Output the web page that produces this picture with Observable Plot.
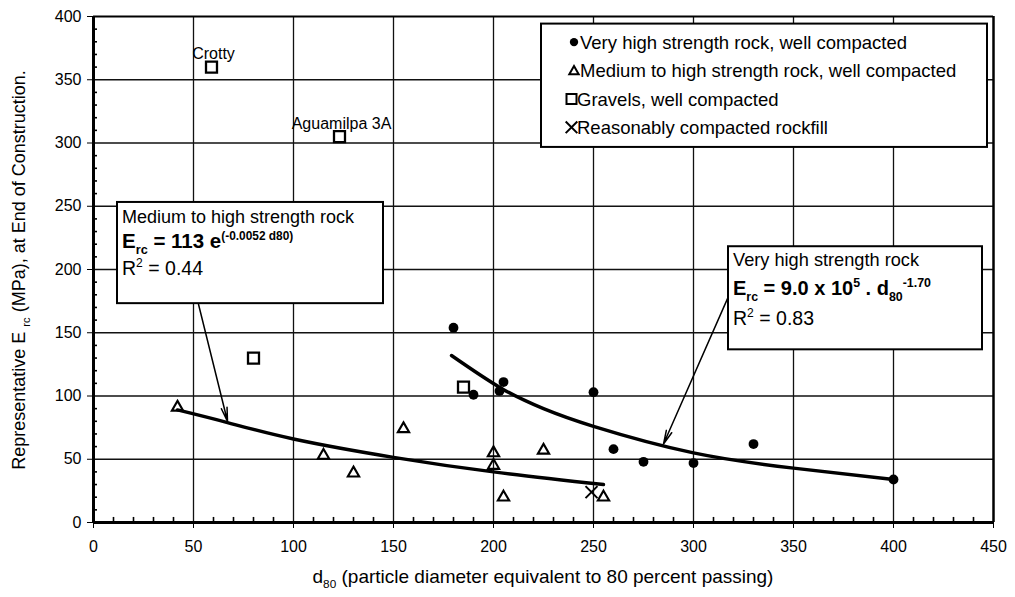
<!DOCTYPE html>
<html><head><meta charset="utf-8">
<script src="https://cdn.jsdelivr.net/npm/d3@7"></script>
<script src="https://cdn.jsdelivr.net/npm/@observablehq/plot@0.6"></script>
<style>
body{margin:0;background:#fff;}
#chart svg{display:block;}
</style></head><body><div id="chart"></div>
<script>
// ---- data ----
const veryHighD80 = [180, 190, 203, 205, 250, 260, 275, 300, 330, 400];
const veryHighE   = [154, 101, 104, 111, 103, 58, 48, 47, 62, 34];
const mediumD80 = [42, 115, 130, 155, 200, 200, 205, 225, 255];
const mediumE   = [91, 53, 39, 74, 55, 45, 20, 57, 20];
const gravelD80 = [59, 123, 80, 185];
const gravelE   = [360, 305, 130, 107];
const gravelNames = ["Crotty", "Aguamilpa 3A", "", ""];
const rockfillD80 = [249];
const rockfillE   = [24];
const fitVeryHighD80 = [179, 204, 225, 250, 300, 350, 400];
const fitVeryHighE   = [132, 106, 90, 76, 55, 43, 34];
const fitMediumD80 = [42, 67, 100, 150, 200, 255];
const fitMediumE   = [89, 79, 66, 51.5, 40, 30];
const xTicks = [0, 50, 100, 150, 200, 250, 300, 350, 400, 450];
const yTicks = [0, 50, 100, 150, 200, 250, 300, 350, 400];
const legendLabels = [
  "Very high strength rock, well compacted",
  "Medium to high strength rock, well compacted",
  "Gravels, well compacted",
  "Reasonably compacted rockfill"
];
const legendSymbols = ["circle", "triangle", "square", "times"];

// ---- layout (annotation placement, in data units) ----
const leftBox  = {x1: 12, x2: 145, y1: 173, y2: 253};
const rightBox = {x1: 317.5, x2: 444.5, y1: 136.5, y2: 218};
const legendBox = {x1: 224, x2: 447, y1: 296.5, y2: 394};
const arrows = [
  {x1: 52.5, y1: 172.5, x2: 67, y2: 80},
  {x1: 317, y1: 177, x2: 285, y2: 62}
];

const tbl = (xs, ys, extra) => xs.map((x, i) => ({d80: x, E: ys[i], ...(extra ? {name: extra[i]} : {})}));
const veryHigh = tbl(veryHighD80, veryHighE);
const medium = tbl(mediumD80, mediumE);
const gravel = tbl(gravelD80, gravelE, gravelNames);
const rockfill = tbl(rockfillD80, rockfillE);
const fitVH = tbl(fitVeryHighD80, fitVeryHighE);
const fitM = tbl(fitMediumD80, fitMediumE);

const minorX = d3.range(10, 450, 10).filter(d => d % 50 !== 0);
const minorY = d3.range(10, 400, 10).filter(d => d % 50 !== 0);

const font = "'Liberation Sans', Arial, Helvetica, sans-serif";

const chart = Plot.plot({
  width: 1015, height: 597,
  marginLeft: 93, marginRight: 22, marginTop: 16, marginBottom: 75,
  style: {fontFamily: font, fontSize: "16px", background: "#fff", color: "#000", overflow: "visible"},
  x: {domain: [0, 450]},
  y: {domain: [0, 400]},
  marks: [
    Plot.ruleX(xTicks.filter(d => d > 0 && d < 450), {stroke: "#111", strokeWidth: 1.3}),
    Plot.ruleY(yTicks.filter(d => d > 0 && d < 400), {stroke: "#111", strokeWidth: 1.3}),
    Plot.ruleX(minorX, {y1: 0, y2: 4, stroke: "#000", strokeWidth: 1.6}),
    Plot.ruleY(minorY, {x1: 0, x2: 2, stroke: "#000", strokeWidth: 1.6}),
    Plot.ruleY([400], {stroke: "#000", strokeWidth: 2}),
    Plot.ruleX([450], {stroke: "#000", strokeWidth: 2.5}),
    Plot.ruleX([0], {stroke: "#000", strokeWidth: 3}),
    Plot.ruleY([0], {stroke: "#000", strokeWidth: 3}),
    Plot.rect([legendBox], {x1: "x1", x2: "x2", y1: "y1", y2: "y2", fill: "#fff", stroke: "#000", strokeWidth: 2}),
    Plot.rect([leftBox, rightBox], {x1: "x1", x2: "x2", y1: "y1", y2: "y2", fill: "#fff", stroke: "#000", strokeWidth: 2}),
    Plot.line(fitVH, {x: "d80", y: "E", curve: "natural", stroke: "#000", strokeWidth: 3.4}),
    Plot.line(fitM, {x: "d80", y: "E", curve: "natural", stroke: "#000", strokeWidth: 3.4}),
    Plot.dot(medium, {x: "d80", y: "E", symbol: "triangle", r: 4.2, stroke: "#000", strokeWidth: 2.1, fill: "none"}),
    Plot.dot(gravel, {x: "d80", y: "E", symbol: "square", r: 6.2, stroke: "#000", strokeWidth: 2.3, fill: "none"}),
    Plot.dot(rockfill, {x: "d80", y: "E", symbol: "times", r: 5.5, stroke: "#000", strokeWidth: 2}),
    Plot.dot(veryHigh, {x: "d80", y: "E", symbol: "circle", r: 4.9, fill: "#000", stroke: "none"}),
    Plot.arrow(arrows, {x1: "x1", y1: "y1", x2: "x2", y2: "y2", stroke: "#000", strokeWidth: 1.5, headLength: 14, headAngle: 24}),
    Plot.text(gravel.filter(d => d.name), {x: "d80", y: "E", text: "name", textAnchor: "middle", lineAnchor: "bottom", dx: 2, dy: -8, fontSize: 16, fill: "#000"}),
    Plot.axisX({ticks: xTicks, tickSize: 6, tickPadding: 12, label: null, fontSize: 16}),
    Plot.axisY({ticks: yTicks, tickSize: 6, tickPadding: 6, label: null, fontSize: 16})
  ]
});

document.getElementById("chart").appendChild(chart);

// ---- rich text (sub/superscripts) ----
const sx = chart.scale("x").apply, sy = chart.scale("y").apply;
const svg = d3.select(chart);
const g = svg.append("g").attr("font-family", font).attr("fill", "#000");

function rich(parent, x, y, parts, {size = 17, weight = "normal", anchor = "start", transform = null} = {}) {
  const t = parent.append("text").attr("x", x).attr("y", y)
    .attr("font-size", size).attr("font-weight", weight).attr("text-anchor", anchor);
  if (transform) t.attr("transform", transform);
  let shift = 0;
  for (const p of parts) {
    const small = p.sub || p.sup;
    const target = p.sub ? size * 0.28 : p.sup ? -size * 0.42 : 0;
    const ts = t.append("tspan").text(p.t)
      .attr("font-size", small ? size * (p.scale || 0.62) : size)
      .attr("dy", target - shift);
    if (p.weight) ts.attr("font-weight", p.weight);
    shift = target;
  }
  return t;
}

// left annotation
const lx = sx(leftBox.x1) + 5, ly = sy(leftBox.y2);
rich(g, lx, ly + 21, [{t: "Medium to high strength rock"}], {size: 18});
rich(g, lx, ly + 46.5, [{t: "E"}, {t: "rc", sub: true}, {t: " = 113 e"}, {t: "(-0.0052 d80)", sup: true, scale: 0.58}], {size: 20.5, weight: "bold"});
rich(g, lx, ly + 73.5, [{t: "R"}, {t: "2", sup: true}, {t: " = 0.44"}], {size: 19.5});

// right annotation
const rx = sx(rightBox.x1) + 5, ry = sy(rightBox.y2);
rich(g, rx, ry + 20, [{t: "Very high strength rock"}], {size: 18.2});
rich(g, rx, ry + 49, [{t: "E"}, {t: "rc", sub: true}, {t: " = 9.0 x 10"}, {t: "5", sup: true}, {t: " . d"}, {t: "80", sub: true}, {t: "-1.70", sup: true}], {size: 20, weight: "bold"});
rich(g, rx, ry + 79, [{t: "R"}, {t: "2", sup: true}, {t: " = 0.83"}], {size: 19.5});

// legend
const bx = sx(legendBox.x1), by = sy(legendBox.y2);
const symType = {circle: d3.symbolCircle, triangle: d3.symbolTriangle, square: d3.symbolSquare, times: d3.symbolTimes};
const symSize = {circle: 55, triangle: 38, square: 100, times: 90};
legendLabels.forEach((lab, i) => {
  const cy = by + 18.5 + i * 28.4;
  const s = legendSymbols[i];
  const filled = s === "circle";
  g.append("path")
    .attr("transform", `translate(${bx + (i < 2 ? 33 : 30.5)},${cy + (s === "triangle" ? 1 : 0)})`)
    .attr("d", d3.symbol(symType[s], symSize[s])())
    .attr("fill", filled ? "#000" : "none")
    .attr("stroke", filled ? "none" : "#000")
    .attr("stroke-width", 2);
  g.append("text").attr("x", bx + (i < 2 ? 39 : 36)).attr("y", cy).attr("dy", "0.36em")
    .attr("text-anchor", "start").attr("font-size", 18.5).text(lab);
});

// axis titles
rich(g, (sx(0) + sx(450)) / 2, 583, [{t: "d"}, {t: "80", sub: true}, {t: " (particle diameter equivalent to 80 percent passing)"}], {size: 19, anchor: "middle"});
rich(g, 0, 0, [{t: "Representative E "}, {t: "rc", sub: true}, {t: " (MPa), at End of Construction."}], {size: 18, anchor: "middle", transform: "translate(25,270) rotate(-90)"});
</script>
</body></html>
